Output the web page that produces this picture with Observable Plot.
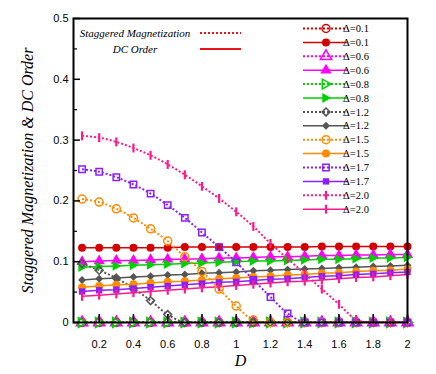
<!DOCTYPE html>
<html>
<head>
<meta charset="utf-8">
<script src="https://cdn.jsdelivr.net/npm/d3@7"></script>
<script src="https://cdn.jsdelivr.net/npm/@observablehq/plot@0.6"></script>
<style>
  html, body { margin: 0; padding: 0; background: #fff; }
  #chart { width: 436px; height: 374px; }
</style>
</head>
<body>
<div id="chart"></div>
<script>
// ---------- data ----------
const Dvals = [0.1,0.2,0.3,0.4,0.5,0.6,0.7,0.8,0.9,1.0,1.1,1.2,1.3,1.4,1.5,1.6,1.7,1.8,1.9,2.0];
const deltas = ["0.1","0.6","0.8","1.2","1.5","1.7","2.0"];
const colors = ["#d40000","#ff00ff","#00d000","#555555","#ff8c00","#8a1fff","#ff1a8c"];
const symbolNames = ["circle","triangle","triRight","diamond","circle","square","bar"];

// staggered magnetization (dotted)
const stag01 = [0,0,0,0,0,0,0,0,0,0,0,0,0,0,0,0,0,0,0,0];
const stag06 = [0,0,0,0,0,0,0,0,0,0,0,0,0,0,0,0,0,0,0,0];
const stag08 = [0,0,0,0,0,0,0,0,0,0,0,0,0,0,0,0,0,0,0,0];
const stag12 = [0.097,0.086,0.073,0.056,0.036,0.013,0,0,0,0,0,0,0,0,0,0,0,0,0,0];
const stag15 = [0.203,0.198,0.187,0.172,0.154,0.134,0.108,0.084,0.055,0.027,0.004,0,0,0,0,0,0,0,0,0];
const stag17 = [0.252,0.248,0.239,0.227,0.212,0.193,0.172,0.148,0.124,0.099,0.070,0.042,0.015,0,0,0,0,0,0,0];
const stag20 = [0.307,0.304,0.297,0.287,0.275,0.260,0.243,0.224,0.204,0.182,0.158,0.130,0.105,0.080,0.055,0.030,0.005,0,0,0];

// DC order (solid)
const dc01 = [0.123,0.123,0.123,0.123,0.123,0.123,0.124,0.124,0.124,0.124,0.124,0.124,0.124,0.124,0.125,0.125,0.125,0.125,0.125,0.125];
const dc06 = [0.100,0.101,0.102,0.102,0.103,0.104,0.104,0.105,0.106,0.106,0.107,0.108,0.108,0.109,0.110,0.110,0.111,0.111,0.112,0.112];
const dc08 = [0.091,0.092,0.093,0.094,0.095,0.096,0.097,0.098,0.099,0.100,0.101,0.101,0.102,0.103,0.104,0.104,0.105,0.106,0.106,0.107];
const dc12 = [0.070,0.072,0.073,0.075,0.076,0.078,0.079,0.081,0.082,0.083,0.085,0.086,0.087,0.088,0.089,0.090,0.091,0.092,0.093,0.094];
const dc15 = [0.058,0.060,0.062,0.063,0.065,0.067,0.068,0.070,0.072,0.073,0.075,0.076,0.078,0.079,0.081,0.082,0.084,0.085,0.086,0.088];
const dc17 = [0.051,0.053,0.054,0.056,0.058,0.060,0.062,0.064,0.066,0.067,0.069,0.071,0.072,0.074,0.076,0.077,0.079,0.080,0.082,0.083];
const dc20 = [0.043,0.045,0.047,0.049,0.051,0.053,0.055,0.057,0.059,0.061,0.063,0.065,0.067,0.068,0.070,0.072,0.074,0.075,0.077,0.079];

const xTicks = [0.2,0.4,0.6,0.8,1.0,1.2,1.4,1.6,1.8,2.0];
const yTicks = [0,0.1,0.2,0.3,0.4,0.5];
const yMinor = [0.05,0.15,0.25,0.35,0.45];
const xLabel = "D";
const yLabel = "Staggered Magnetization & DC Order";
const legendTop = ["Staggered Magnetization","DC Order"];

const stagSeries = [stag01,stag06,stag08,stag12,stag15,stag17,stag20];
const dcSeries = [dc01,dc06,dc08,dc12,dc15,dc17,dc20];

// ---------- symbols ----------
const triRight = { draw(ctx, size) {
  const r = Math.sqrt(size) * 0.6;
  ctx.moveTo(r * 1.05, 0);
  ctx.lineTo(-r * 0.75, -r);
  ctx.lineTo(-r * 0.75, r);
  ctx.closePath();
}};
const rhombus = { draw(ctx, size) {
  const r = Math.sqrt(size) * 0.62;
  ctx.moveTo(0, -r);
  ctx.lineTo(r, 0);
  ctx.lineTo(0, r);
  ctx.lineTo(-r, 0);
  ctx.closePath();
}};
const bar = { draw(ctx, size) {
  const h = Math.sqrt(size) * 0.42;
  ctx.rect(-1.1, -h, 2.2, 2 * h);
}};
const symMap = {circle: d3.symbolCircle, triangle: d3.symbolTriangle, diamond: rhombus, square: d3.symbolSquare, triRight, bar};
const symSize = {circle: 4, triangle: 4.2, triRight: 4.6, diamond: 3.6, square: 3.6, bar: 6};

// ---------- tidy rows ----------
const rows = (arr, i) => Dvals.map((d, k) => ({D: d, v: arr[k], i}));

const serifFont = "'Liberation Serif', 'DejaVu Serif', serif";
const sansFont = "'Liberation Sans', Arial, sans-serif";

const marks = [];
deltas.forEach((delta, i) => {
  const s = rows(stagSeries[i], i);
  const c = rows(dcSeries[i], i);
  const col = colors[i];
  marks.push(Plot.line(s, {x: "D", y: "v", stroke: col, strokeWidth: 2, strokeDasharray: "2 2", strokeLinecap: "butt", curve: "catmull-rom", clip: true}));
  marks.push(Plot.line(c, {x: "D", y: "v", stroke: col, strokeWidth: 1.5}));
});
deltas.forEach((delta, i) => {
  const s = rows(stagSeries[i], i);
  const c = rows(dcSeries[i], i);
  const col = colors[i];
  const sn = symbolNames[i];
  const isBar = sn === "bar";
  marks.push(Plot.dot(s, {x: "D", y: "v", symbol: symMap[sn], r: symSize[sn], stroke: isBar ? "none" : col, fill: isBar ? col : "none", strokeWidth: 1.5}));
  marks.push(Plot.dot(c, {x: "D", y: "v", symbol: symMap[sn], r: symSize[sn], fill: col, stroke: "none"}));
});

const fmt = d => String(+d.toFixed(1));
const blank = () => "";

const chart = Plot.plot({
  width: 436,
  height: 374,
  marginLeft: 73,
  marginRight: 29,
  marginTop: 18,
  marginBottom: 52,
  style: {background: "#fff"},
  x: {domain: [0.05, 2], axis: null},
  y: {domain: [0, 0.5], axis: null},
  marks: [
    ...marks,
    Plot.axisY({ticks: yTicks, tickSize: 0, tickPadding: 5, tickFormat: fmt, fontSize: 11, fontFamily: sansFont, label: null, fill: "#000"}),
    Plot.axisY({ticks: yTicks, tickSize: -7, tickFormat: blank, label: null, strokeWidth: 1.5, stroke: "#000"}),
    Plot.axisY({ticks: yMinor, tickSize: -4, tickFormat: blank, label: null, strokeWidth: 1.2, stroke: "#000"}),
    Plot.axisX({ticks: xTicks, tickSize: 0, tickPadding: 18, tickFormat: fmt, fontSize: 11, fontFamily: sansFont, label: null, fill: "#000"}),
    Plot.axisX({ticks: xTicks, tickSize: -8, tickFormat: blank, label: null, strokeWidth: 1.5, stroke: "#000"}),
    Plot.frame({stroke: "#000", strokeWidth: 2}),
    Plot.text([xLabel], {frameAnchor: "bottom", dy: 43, text: d => d, fontSize: 16, fontStyle: "italic", fontFamily: serifFont, fill: "#000"}),
    Plot.text([yLabel], {frameAnchor: "left", dx: -46, rotate: -90, textAnchor: "middle", text: d => d, fontSize: 16, fontStyle: "italic", fontFamily: serifFont, fill: "#000"})
  ]
});

document.getElementById("chart").appendChild(chart);

// ---------- legends (drawn into the Plot svg) ----------
const svg = d3.select(chart);
const lg = svg.append("g").attr("class", "legend-top");
legendTop.forEach((t, k) => {
  const y = 33 + k * 16;
  lg.append("text").attr("x", 135).attr("y", y).attr("dy", "0.35em")
    .attr("text-anchor", "middle").attr("font-family", serifFont).attr("font-style", "italic")
    .attr("font-size", 11).attr("fill", "#000").text(t);
  lg.append("line").attr("x1", 200).attr("x2", 241).attr("y1", y).attr("y2", y)
    .attr("stroke", "#e8141c").attr("stroke-width", 2)
    .attr("stroke-dasharray", k === 0 ? "2 2" : null);
});

const lr = svg.append("g").attr("class", "legend-right");
deltas.forEach((delta, i) => {
  [0, 1].forEach(k => {
    const row = i * 2 + k;
    const y = 28.5 + row * 13.9;
    const col = colors[i];
    const sn = symbolNames[i];
    lr.append("line").attr("x1", 303).attr("x2", 348).attr("y1", y).attr("y2", y)
      .attr("stroke", col).attr("stroke-width", k === 0 ? 2 : 1.5)
      .attr("stroke-dasharray", k === 0 ? "2 2" : null);
    const r = symSize[sn];
    const p = d3.symbol(symMap[sn], r * r * Math.PI)();
    const open = k === 0 && sn !== "bar";
    lr.append("path").attr("d", p).attr("transform", `translate(326,${y})`)
      .attr("fill", open ? "none" : col).attr("stroke", open ? col : "none").attr("stroke-width", 1.5);
    lr.append("text").attr("x", 356).attr("y", y).attr("dy", "0.35em")
      .attr("font-family", serifFont).attr("font-size", 10.5).attr("fill", "#000")
      .text("Δ=" + delta);
  });
});
</script>
</body>
</html>
